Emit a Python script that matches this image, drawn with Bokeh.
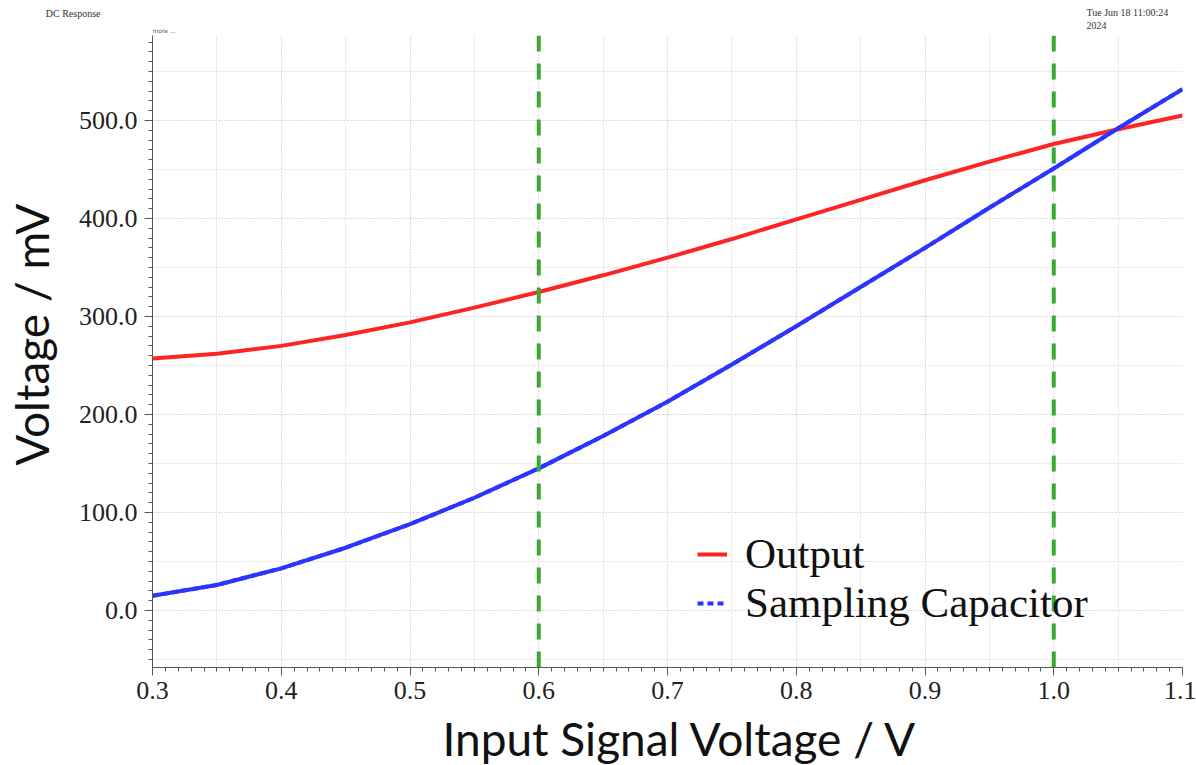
from bokeh.plotting import figure
from bokeh.layouts import column
from bokeh.models import (Range1d, Label, Legend, LegendItem, Span, Grid, FixedTicker,
                          SingleIntervalTicker, PrintfTickFormatter, LinearAxis)
from bokeh.embed import file_html
from bokeh.resources import INLINE
import numpy as np

# ---- data ----
vin = [0.30, 0.35, 0.40, 0.45, 0.50, 0.55, 0.60, 0.65, 0.70, 0.75,
       0.80, 0.85, 0.90, 0.95, 1.00, 1.05, 1.10]
output_mv = [257, 262, 270, 281, 294, 309, 325, 342, 360, 379,
             399, 419, 439, 458, 476, 491, 505]
sampling_cap_mv = [15, 26, 43, 64, 88, 115, 145, 178, 213, 251,
                   290, 330, 370, 411, 451, 492, 532]
markers_v = [0.6, 1.0]
x_ticks = [0.3, 0.4, 0.5, 0.6, 0.7, 0.8, 0.9, 1.0, 1.1]
y_ticks = [0, 100, 200, 300, 400, 500]

SERIF = "Liberation Serif"
SANS = "Lato"
W = 1196
LEFT = 152      # frame left (px)
RIGHT = 14      # right border (px)
HDR_H = 35
FRAME_H = 632
BOTTOM = 45
FTR_H = 765 - HDR_H - FRAME_H - BOTTOM
NBSP = "\u00a0"


def bare(h):
    f = figure(width=W, height=h, output_backend="svg", toolbar_location=None,
               x_range=Range1d(0, W), y_range=Range1d(0, h),
               x_axis_type=None, y_axis_type=None,
               min_border_left=LEFT, min_border_right=RIGHT,
               min_border_top=0, min_border_bottom=0)
    f.grid.visible = False
    f.outline_line_color = None
    return f


# ---- header strip ----
hdr = bare(HDR_H)
dc_ax = LinearAxis(ticker=FixedTicker(ticks=[22]),
                   major_label_overrides={22: "DC Response"},
                   axis_line_color=None, major_tick_line_color=None,
                   minor_tick_line_color=None, major_tick_out=0, major_tick_in=0,
                   minor_tick_out=0, minor_tick_in=0, major_label_standoff=52,
                   major_label_text_font=SERIF, major_label_text_font_size="10px",
                   major_label_text_color="#333333")
hdr.add_layout(dc_ax, "left")
hdr.add_layout(Label(x=0, y=5, x_units="screen", y_units="screen",
                     text="more ...", text_font="DejaVu Sans", text_font_size="6px",
                     text_color="#555555", text_baseline="middle"))
hdr.add_layout(Label(x=1086 - LEFT, y=23, x_units="screen", y_units="screen",
                     text="Tue Jun 18 11:00:24", text_font=SERIF, text_font_size="10px",
                     text_color="#333333", text_baseline="middle"))
hdr.add_layout(Label(x=1086 - LEFT, y=10, x_units="screen", y_units="screen",
                     text="2024", text_font=SERIF, text_font_size="10px",
                     text_color="#333333", text_baseline="middle"))

# ---- main plot ----
p = figure(width=W, height=FRAME_H + BOTTOM, output_backend="svg", toolbar_location=None,
           x_range=Range1d(0.3, 1.1), y_range=Range1d(-58.2, 586.7),
           min_border_left=LEFT, min_border_right=RIGHT, min_border_top=0,
           min_border_bottom=BOTTOM)
p.outline_line_color = None
p.background_fill_color = "white"

# grids
p.xgrid.ticker = FixedTicker(ticks=x_ticks)
p.ygrid.ticker = FixedTicker(ticks=y_ticks)
for g in (p.xgrid[0], p.ygrid[0]):
    g.grid_line_color = "#b8b8b8"
    g.grid_line_dash = "1 2"
    g.grid_line_width = 1
half_x = list(np.round(np.arange(0.35, 1.1, 0.1), 3))
half_y = list(np.arange(-50, 600, 100))
p.add_layout(Grid(dimension=0, ticker=FixedTicker(ticks=half_x),
                  grid_line_color="#ececec", grid_line_width=1))
p.add_layout(Grid(dimension=1, ticker=FixedTicker(ticks=half_y),
                  grid_line_color="#ececec", grid_line_width=1))

# axes
p.xaxis.ticker = SingleIntervalTicker(interval=0.1, num_minor_ticks=10)
p.yaxis.ticker = SingleIntervalTicker(interval=100, num_minor_ticks=10)
p.xaxis.formatter = PrintfTickFormatter(format="%.1f")
p.yaxis.formatter = PrintfTickFormatter(format="%.1f")
for ax in (p.xaxis[0], p.yaxis[0]):
    ax.axis_line_color = "#555555"
    ax.major_tick_line_color = "#555555"
    ax.minor_tick_line_color = "#555555"
    ax.major_tick_out = 8
    ax.major_tick_in = 0
    ax.minor_tick_out = 4
    ax.minor_tick_in = 0
    ax.major_label_text_font = SERIF
    ax.major_label_text_font_size = "26px"
    ax.major_label_text_color = "#222222"
p.xaxis.major_label_standoff = 6
p.yaxis.major_label_standoff = 7
# leading non-breaking spaces nudge the centred title upwards, as in the reference
p.yaxis.axis_label = NBSP * 3 + "Voltage / mV"
p.yaxis.axis_label_standoff = 17
p.yaxis.axis_label_text_font = SANS
p.yaxis.axis_label_text_font_size = "46px"
p.yaxis.axis_label_text_font_style = "normal"
p.yaxis.axis_label_text_color = "#111111"

# dotted proxy for the legend glyph (hidden beneath the solid line)
r_cap_legend = p.line(vin, sampling_cap_mv, line_color="#2b35ff", line_width=4,
                      line_dash="6 4")
# data lines
r_out = p.line(vin, output_mv, line_color="#ff2424", line_width=4)
r_cap = p.line(vin, sampling_cap_mv, line_color="#2b35ff", line_width=4)

# green dashed marker lines
for v in markers_v:
    p.add_layout(Span(location=v, dimension="height", line_color="#3aa935",
                      line_width=4, line_dash="16 12"))

legend = Legend(items=[LegendItem(label="Output", renderers=[r_out]),
                       LegendItem(label="Sampling Capacitor", renderers=[r_cap_legend])],
                location=(545, 40), orientation="vertical",
                label_text_font=SERIF, label_text_font_size="43px",
                label_text_color="#111111",
                glyph_width=30, glyph_height=30, label_height=44,
                spacing=0, padding=0, margin=0, label_standoff=18,
                border_line_color=None, background_fill_alpha=0)
p.add_layout(legend)

# ---- footer strip with the x-axis title ----
ftr = bare(FTR_H)
ftr.add_layout(Label(x=680 - LEFT, y=27, x_units="screen", y_units="screen",
                     text="Input Signal Voltage / V", text_font=SANS,
                     text_font_size="46px", text_color="#111111",
                     text_align="center", text_baseline="middle"))

open("out.html", "w").write(file_html(column(hdr, p, ftr), INLINE))
